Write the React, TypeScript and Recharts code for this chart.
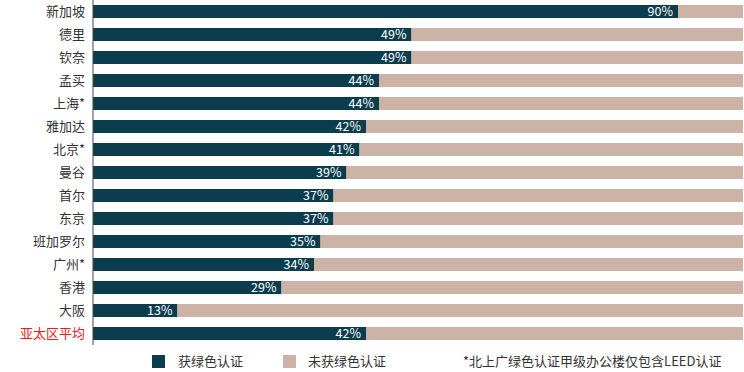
import { BarChart, Bar, XAxis, YAxis, Legend, LabelList } from 'recharts';

const cities = ['新加坡', '德里', '钦奈', '孟买', '上海*', '雅加达', '北京*', '曼谷', '首尔', '东京', '班加罗尔', '广州*', '香港', '大阪', '亚太区平均'];
const certified = [90, 49, 49, 44, 44, 42, 41, 39, 37, 37, 35, 34, 29, 13, 42];
const notCertified = [10, 51, 51, 56, 56, 58, 59, 61, 63, 63, 65, 66, 71, 87, 58];

const data = cities.map((city, i) => ({ city, certified: certified[i], notCertified: notCertified[i] }));

const DARK = '#0b3d4f';
const BEIGE = '#cdb3a5';
const FONT = '"Noto Sans CJK SC", "Noto Sans", sans-serif';

const CityTick = (props: any) => {
  const { x, y, payload } = props;
  const isAvg = payload.value === '亚太区平均';
  return (
    <text x={x} y={y} dy={4.5} textAnchor="end" fontSize={13} fontFamily={FONT} fill={isAvg ? '#e3201b' : '#333'}>
      {payload.value}
    </text>
  );
};

const renderLegend = () => (
  <div style={{ position: 'relative', height: 20, fontFamily: FONT, color: '#333' }}>
    <div style={{ position: 'absolute', left: 152, top: 4, width: 13, height: 13, background: DARK }} />
    <div style={{ position: 'absolute', left: 178, top: 0, fontSize: 13, lineHeight: '20px' }}>获绿色认证</div>
    <div style={{ position: 'absolute', left: 283, top: 4, width: 13, height: 13, background: BEIGE }} />
    <div style={{ position: 'absolute', left: 308, top: 0, fontSize: 13, lineHeight: '20px' }}>未获绿色认证</div>
    <div style={{ position: 'absolute', left: 463, top: 0, fontSize: 13, lineHeight: '20px', whiteSpace: 'nowrap' }}>
      *北上广绿色认证甲级办公楼仅包含LEED认证
    </div>
  </div>
);

export default function App() {
  return (
    <div style={{ position: 'fixed', left: 0, top: 0, width: 744, height: 372, background: '#fff' }}>
      <BarChart
        width={744}
        height={372}
        data={data}
        layout="vertical"
        barSize={13}
        margin={{ top: 0, right: 1, bottom: 7, left: 0 }}
      >
        <XAxis type="number" domain={[0, 100]} hide />
        <YAxis
          type="category"
          dataKey="city"
          width={93}
          interval={0}
          tickSize={0}
          tickMargin={8}
          tickLine={false}
          axisLine={{ stroke: '#444' }}
          tick={<CityTick />}
        />
        <Legend
          verticalAlign="bottom"
          content={renderLegend}
          wrapperStyle={{ top: 351, left: 0, width: 744, height: 20 }}
        />
        <Bar dataKey="certified" stackId="a" fill={DARK} isAnimationActive={false}>
          <LabelList
            dataKey="certified"
            position="insideRight"
            offset={5}
            formatter={(v: any) => `${v}%`}
            fill="#fff"
            fontSize={12.5}
            fontFamily={FONT}
          />
        </Bar>
        <Bar dataKey="notCertified" stackId="a" fill={BEIGE} isAnimationActive={false} />
      </BarChart>
    </div>
  );
}
